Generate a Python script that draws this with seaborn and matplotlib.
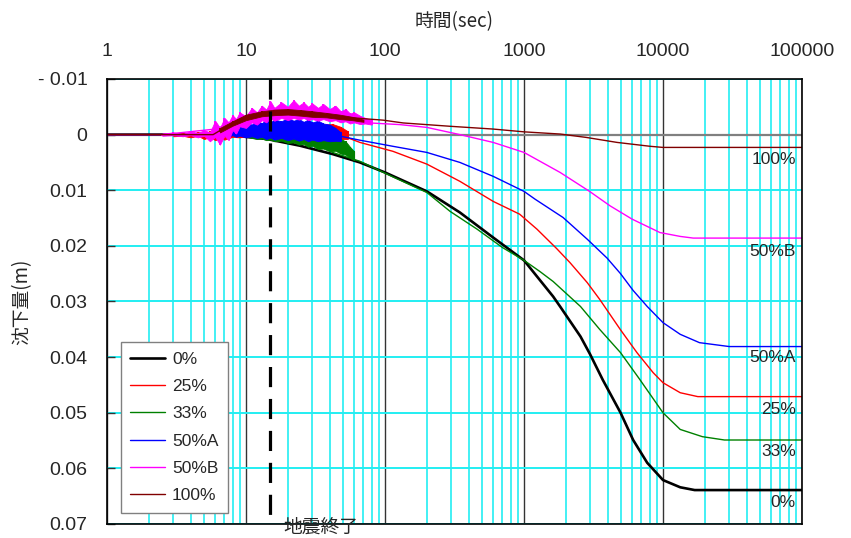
import matplotlib
matplotlib.use("Agg")
import matplotlib.pyplot as plt
import pandas as pd
import seaborn as sns
from matplotlib.ticker import FixedLocator, FixedFormatter, LogLocator, NullFormatter

# ---------------- data (time in sec, settlement in m) ----------------
series_names = ["0%", "25%", "33%", "50%A", "50%B", "100%"]
series_colors = ["#000000", "#FF0000", "#008000", "#0000FF", "#FF00FF", "#800000"]

t_0 = [1, 7, 14.2, 24.5, 42, 66, 100, 200, 346, 600, 1000, 1240, 1620, 1830, 2550, 2990,
       3690, 4950, 6100, 7700, 10000, 13300, 16900, 100000]
v_0 = [0, 0, 0.0008, 0.002, 0.0035, 0.005, 0.0068, 0.0102, 0.014, 0.0185, 0.0226, 0.0255,
       0.0291, 0.031, 0.0363, 0.0395, 0.0441, 0.05, 0.0549, 0.059, 0.0621, 0.0634, 0.0639, 0.0639]

t_25 = [1, 3, 7, 15, 30, 47, 66, 114, 200, 346, 600, 930, 1240, 1720, 2140, 2850, 3500,
        4950, 6500, 8500, 10000, 13300, 17800, 100000]
v_25 = [0, 0, 0, -0.0005, -0.0005, 0.0, 0.0014, 0.003, 0.0053, 0.0084, 0.012, 0.0143, 0.017,
        0.0205, 0.023, 0.0266, 0.0296, 0.0351, 0.0392, 0.0428, 0.0446, 0.0464, 0.0471, 0.0471]

t_33 = [1, 10, 20, 30, 42, 66, 114, 200, 294, 460, 700, 1000, 1300, 1620, 2550, 3500, 4950,
        6800, 10000, 13300, 19200, 27700, 100000]
v_33 = [0, 0, 0.0005, 0.0012, 0.0032, 0.0048, 0.0076, 0.0104, 0.0138, 0.017, 0.0203, 0.0226,
        0.0246, 0.0264, 0.0309, 0.035, 0.0392, 0.044, 0.05, 0.053, 0.0543, 0.0549, 0.0549]

t_50a = [1, 7, 15, 30, 42, 66, 114, 200, 346, 600, 1000, 1200, 1910, 2850, 3960, 4950, 6090,
         7700, 10000, 13300, 18300, 30000, 100000]
v_50a = [0, 0, -0.001, -0.0008, 0.0, 0.001, 0.0021, 0.0032, 0.005, 0.0075, 0.0102, 0.0116,
         0.0149, 0.0188, 0.0222, 0.025, 0.028, 0.0309, 0.0338, 0.0359, 0.0374, 0.0381, 0.0381]

t_50b = [1, 2.5, 6, 8, 12.6, 20.7, 42, 66, 128, 200, 346, 600, 1000, 1820, 2960, 4160,
         6000, 9500, 13300, 16500, 100000]
v_50b = [0, 0, -0.001, -0.0022, -0.0035, -0.004, -0.0035, -0.0022, -0.0018, -0.0013, 0.0,
         0.0014, 0.0032, 0.0068, 0.0102, 0.0128, 0.0152, 0.0176, 0.0183, 0.0186, 0.0186]

t_100 = [1, 5.8, 7.3, 9.1, 12.6, 19.7, 30, 47, 97, 135, 294, 600, 1000, 1830, 2800,
         4670, 8090, 10000, 100000]
v_100 = [0, 0, -0.0015, -0.0028, -0.0037, -0.0041, -0.0037, -0.0032, -0.0026, -0.0021,
         -0.0015, -0.001, -0.0005, -0.0001, 0.0005, 0.0014, 0.0021, 0.0023, 0.0023]

# shaking-phase scatter envelopes (top = most negative, bottom)
band_t_25 = [3, 3.5, 4, 4.5, 5, 5.5, 6, 6.5, 7, 8, 9, 10, 12, 14, 16, 20, 25, 30, 36, 42, 48, 54]
band_hi_25 = [0.0, -0.0003, 0.0, -0.0005, -0.0002, -0.0006, -0.0003, -0.001, -0.0006, -0.0015,
              -0.0012, -0.0018, -0.0016, -0.002, -0.0018, -0.002, -0.0019, -0.002, -0.0018,
              -0.0019, -0.0014, -0.0006]
band_lo_25 = [0.0003, 0.0002, 0.0005, 0.0002, 0.0008, 0.0004, 0.001, 0.0006, 0.0009, 0.0004,
              0.0005, 0.0003, 0.0005, 0.0004, 0.0006, 0.0005, 0.0007, 0.0006, 0.0008, 0.0009,
              0.0008, 0.0008]

band_t_33 = [10, 11, 12, 13, 14, 15, 16, 18, 20, 22, 24, 26, 28, 30, 33, 36, 40, 44, 48, 52, 56, 60]
band_hi_33 = [0.0, -0.0003, 0.0001, -0.0005, -0.0002, -0.0008, -0.0003, -0.0009, -0.0004, -0.001,
              -0.0005, -0.0009, -0.0002, -0.0008, -0.0001, -0.0006, 0.0002, -0.0002, 0.0008,
              0.0012, 0.0022, 0.003]
band_lo_33 = [0.0004, 0.0006, 0.0008, 0.0007, 0.001, 0.0009, 0.0012, 0.0011, 0.0015, 0.0014,
              0.0018, 0.0017, 0.0022, 0.002, 0.0026, 0.0025, 0.003, 0.0029, 0.0034, 0.0036,
              0.0042, 0.0046]

band_t_50a = [7, 7.5, 8, 8.5, 9, 10, 11, 12, 13, 14, 15, 16, 18, 20, 22, 24, 26, 28, 30, 33,
              36, 40, 44, 48]
band_hi_50a = [-0.0004, -0.0012, -0.0008, -0.0018, -0.0014, -0.0022, -0.0018, -0.0026, -0.002,
               -0.0028, -0.0022, -0.0027, -0.0024, -0.003, -0.0025, -0.0028, -0.0023, -0.0027,
               -0.0022, -0.0025, -0.002, -0.0018, -0.0012, -0.0004]
band_lo_50a = [0.0002, 0.0003, 0.0001, 0.0004, 0.0002, 0.0005, 0.0003, 0.0006, 0.0004, 0.0008,
               0.0005, 0.0009, 0.0006, 0.001, 0.0007, 0.0011, 0.0008, 0.0012, 0.0009, 0.0012,
               0.001, 0.0012, 0.0011, 0.0012]

band_t_50b = [2.5, 3.0, 3.5, 4.0, 4.5, 5.0, 5.5, 6.0, 6.5, 7.0, 7.5, 8.0, 8.5, 9.0, 10, 11, 12,
              13, 14, 15, 16, 18, 20, 22, 24, 26, 28, 30, 33, 36, 40, 44, 48, 52, 56, 60, 66,
              72, 80]
band_hi_50b = [-0.0002, -0.0004, -0.0001, -0.0006, -0.0003, -0.0008, -0.0004, -0.0025, -0.0012,
               -0.003, -0.0022, -0.0035, -0.0028, -0.004, -0.0033, -0.0048, -0.004, -0.0052,
               -0.0045, -0.006, -0.0048, -0.0058, -0.005, -0.0062, -0.0052, -0.0058, -0.005,
               -0.0056, -0.0048, -0.0055, -0.0046, -0.0052, -0.0042, -0.0046, -0.0038, -0.004,
               -0.0034, -0.003, -0.0026]
band_lo_50b = [0.0002, 0.0001, 0.0003, 0.0001, 0.0005, 0.0002, 0.0012, 0.0004, 0.0018, 0.0002,
               0.001, -0.0008, -0.0002, -0.0015, -0.0012, -0.0022, -0.0018, -0.0026, -0.0022,
               -0.003, -0.0025, -0.003, -0.0026, -0.003, -0.0027, -0.003, -0.0026, -0.0028,
               -0.0025, -0.0028, -0.0024, -0.0026, -0.0022, -0.0024, -0.002, -0.0022, -0.0019,
               -0.002, -0.0018]

band_t_100 = [6.5, 8, 10, 13, 16, 20, 25, 30, 38, 47, 58, 70]
band_hi_100 = [-0.0012, -0.0024, -0.0036, -0.0042, -0.0045, -0.0046, -0.0044, -0.0042, -0.0039,
               -0.0036, -0.0032, -0.0027]
band_lo_100 = [-0.0004, -0.0016, -0.0026, -0.0033, -0.0035, -0.0036, -0.0034, -0.0032, -0.0031,
               -0.0028, -0.0026, -0.0023]

x_ticks = [1, 10, 100, 1000, 10000, 100000]
x_tick_labels = ["1", "10", "100", "1000", "10000", "100000"]
y_ticks = [-0.01, 0, 0.01, 0.02, 0.03, 0.04, 0.05, 0.06, 0.07]
y_tick_labels = ["- 0.01", "0", "0.01", "0.02", "0.03", "0.04", "0.05", "0.06", "0.07"]
quake_end = 15
end_labels = ["0%", "25%", "33%", "50%A", "50%B", "100%"]

# ---------------- plotting ----------------
sns.set_style("white")
plt.rcParams['font.family'] = ['Liberation Sans', 'DejaVu Sans']
cjk = ['Noto Sans CJK JP', 'DejaVu Sans']

fig = plt.figure(figsize=(8.51, 5.38), dpi=100)
ax = fig.add_axes([107 / 851, 14 / 538, 695 / 851, 445 / 538])
ax.set_xscale('log')

lines = [(t_0, v_0), (t_25, v_25), (t_33, v_33), (t_50a, v_50a), (t_50b, v_50b), (t_100, v_100)]
bands = [None, (band_t_25, band_hi_25, band_lo_25), (band_t_33, band_hi_33, band_lo_33),
         (band_t_50a, band_hi_50a, band_lo_50a), (band_t_50b, band_hi_50b, band_lo_50b),
         (band_t_100, band_hi_100, band_lo_100)]
widths = [1.9, 1.0, 1.0, 1.0, 1.0, 1.0]

for i, (name, col, (tt, vv), band, lw) in enumerate(zip(series_names, series_colors, lines, bands, widths)):
    z = 3 + i * 0.1
    df = pd.DataFrame({"t": tt, "v": vv})
    sns.lineplot(data=df, x="t", y="v", ax=ax, color=col, linewidth=lw, label=name,
                 sort=False, estimator=None, zorder=z)
    if band is not None:
        ax.fill_between(band[0], band[1], band[2], color=col, linewidth=0.6,
                        edgecolor=col, zorder=z)
        ax.vlines(band[0], band[1], band[2], color=col, linewidth=1.3, zorder=z)

ax.set_xlim(1, 100000)
ax.set_ylim(0.07, -0.01)

# grid
ax.xaxis.set_minor_locator(LogLocator(base=10, subs=range(2, 10), numticks=20))
ax.xaxis.set_minor_formatter(NullFormatter())
ax.grid(True, which='minor', axis='x', color='#22EEF2', linewidth=1.2, zorder=1)
ax.grid(True, which='major', axis='x', color='#333333', linewidth=1.0, zorder=1.2)
ax.grid(True, which='major', axis='y', color='#22EEF2', linewidth=1.4, zorder=1)
ax.axhline(0, color='#808080', linewidth=1.6, zorder=1.5)
ax.set_axisbelow(True)

# quake end marker
ax.plot([quake_end, quake_end], [y_ticks[0], y_ticks[-1]], color='black', linewidth=2.3,
        dashes=(6.3, 3.7), zorder=4, clip_on=False)
ax.text(18.5, 0.0706, "地震終了", fontsize=13.5, family=cjk, ha='left', va='center',
        zorder=6, clip_on=False)

# axes & ticks
ax.xaxis.set_major_locator(FixedLocator(x_ticks))
ax.xaxis.set_major_formatter(FixedFormatter(x_tick_labels))
ax.yaxis.set_major_locator(FixedLocator(y_ticks))
ax.yaxis.set_major_formatter(FixedFormatter(y_tick_labels))
ax.xaxis.tick_top()
ax.xaxis.set_label_position('top')
ax.tick_params(axis='x', which='both', length=0, pad=14, labelsize=14)
ax.tick_params(axis='y', which='major', direction='in', length=6, width=1, color='#333333',
               pad=14, labelsize=14, left=True)
ax.set_xlabel("時間(sec)", fontsize=13.5, family=cjk, labelpad=11)
ax.set_ylabel("")
fig.text(22 / 851, (538 - 301.5) / 538, "沈下量(m)", fontsize=13.5, family=cjk,
         rotation=90, ha='center', va='center')
for s in ax.spines.values():
    s.set_color('black')
    s.set_linewidth(1.2)
    s.set_zorder(5)

# end labels
label_pos = [0.0662, 0.0495, 0.057, 0.0401, 0.021, 0.0044]
for txt, yv in zip(end_labels, label_pos):
    ax.text(90000, yv, txt, fontsize=12.5, ha='right', va='center', zorder=6)

leg = ax.legend(loc='lower left', bbox_to_anchor=(0.02, 0.025), borderaxespad=0,
                fontsize=12.5, frameon=True, fancybox=False, framealpha=1,
                edgecolor='#808080', handlelength=2.0, handletextpad=0.4,
                labelspacing=0.7, borderpad=0.55)
leg.get_frame().set_linewidth(1.0)
leg.set_zorder(7)

fig.savefig("out.png", dpi=100)
